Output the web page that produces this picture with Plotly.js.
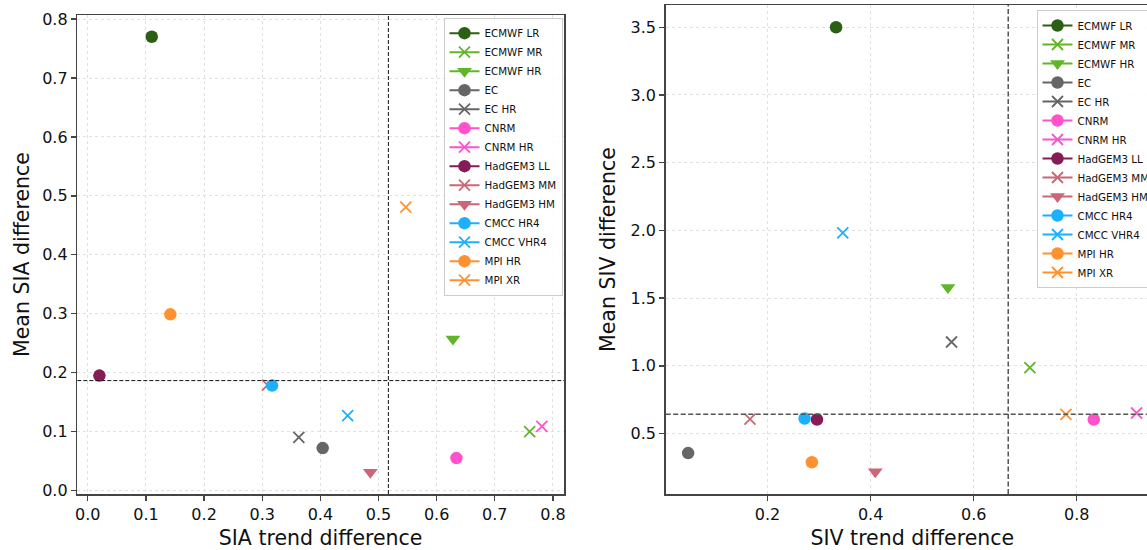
<!DOCTYPE html>
<html><head><meta charset="utf-8">
<script src="https://cdn.plot.ly/plotly-3.0.1.min.js"></script>
<style>html,body{margin:0;padding:0;overflow:hidden;background:#fff;width:1147px;height:550px}#chart{width:1170px;height:550px}</style>
</head><body><div id="chart"></div>
<script>
const models = ['ECMWF LR','ECMWF MR','ECMWF HR','EC','EC HR','CNRM','CNRM HR','HadGEM3 LL','HadGEM3 MM','HadGEM3 HM','CMCC HR4','CMCC VHR4','MPI HR','MPI XR'];
const siaTrendDiff = [0.110, 0.760, 0.628, 0.404, 0.363, 0.634, 0.781, 0.020, 0.309, 0.486, 0.317, 0.447, 0.142, 0.547];
const siaMeanDiff  = [0.770, 0.100, 0.257, 0.072, 0.090, 0.055, 0.109, 0.195, 0.179, 0.031, 0.178, 0.127, 0.299, 0.481];
const sivTrendDiff = [0.333, 0.709, 0.550, 0.046, 0.557, 0.833, 0.916, 0.296, 0.166, 0.409, 0.272, 0.346, 0.286, 0.779];
const sivMeanDiff  = [3.500, 0.987, 1.578, 0.356, 1.176, 0.604, 0.652, 0.604, 0.606, 0.218, 0.611, 1.982, 0.288, 0.641];
const siaRefLines = [0.517, 0.1865];   // [trend, mean]
const sivRefLines = [0.667, 0.643];    // [trend, mean]
const colors  = ['#2a5f14','#62b52a','#62b52a','#666666','#666666','#ff52cc','#ff52cc','#861c55','#cc6677','#cc6677','#1cb0ff','#1cb0ff','#ff9230','#ff9230'];
const symbols = ['circle','x-thin','triangle-down','circle','x-thin','circle','x-thin','circle','x-thin','triangle-down','circle','x-thin','circle','x-thin'];

const W = 1170, H = 550;
function pad(arr){const lo=Math.min(...arr),hi=Math.max(...arr),m=0.05*(hi-lo);return [lo-m,hi+m];}
function mk(i){
  const s = symbols[i], c = colors[i];
  if (s==='x-thin') return {symbol:s,size:11,color:c,line:{color:c,width:1.8}};
  if (s==='triangle-down') return {symbol:s,size:13,color:c,line:{width:0}};
  return {symbol:s,size:12.5,color:c,line:{width:0}};
}
const traces = [];
models.forEach((m,i)=>{
  traces.push({type:'scatter',mode:'lines+markers',name:m,x:[siaTrendDiff[i]],y:[siaMeanDiff[i]],xaxis:'x',yaxis:'y',legend:'legend',
    line:{color:colors[i],width:2},marker:mk(i),hoverinfo:'name+x+y'});
});
models.forEach((m,i)=>{
  traces.push({type:'scatter',mode:'lines+markers',name:m,x:[sivTrendDiff[i]],y:[sivMeanDiff[i]],xaxis:'x2',yaxis:'y2',legend:'legend2',
    line:{color:colors[i],width:2},marker:mk(i),hoverinfo:'name+x+y'});
});
const axBase = {showline:true,mirror:true,linecolor:'#444',linewidth:1.5,ticks:'outside',ticklen:5,tickwidth:1.3,tickcolor:'#444',
  showgrid:true,gridcolor:'#e0e0e0',gridwidth:1,griddash:'dot',zeroline:false,tickfont:{size:16,color:'#111'},tickformat:'.1f',automargin:false};
const legBase = {xanchor:'left',yanchor:'top',bgcolor:'rgba(255,255,255,0.85)',bordercolor:'#cccccc',borderwidth:1,font:{size:10.3,color:'#111'},itemwidth:30,tracegroupgap:0};
const layout = {
  width:W,height:H,margin:{l:0,r:0,t:0,b:0},paper_bgcolor:'#fff',plot_bgcolor:'#fff',
  font:{family:'DejaVu Sans',color:'#111'},
  xaxis:Object.assign({},axBase,{domain:[77.3/W,564/W],range:pad(siaTrendDiff),dtick:0.1,tick0:0,anchor:'y',
    title:{text:'SIA trend difference',font:{size:20.5,color:'#111'},standoff:8}}),
  yaxis:Object.assign({},axBase,{domain:[(H-494)/H,(H-15)/H],range:pad(siaMeanDiff),dtick:0.1,tick0:0,anchor:'x',
    title:{text:'Mean SIA difference',font:{size:20.5,color:'#111'},standoff:7}}),
  xaxis2:Object.assign({},axBase,{domain:[665.7/W,1159/W],range:pad(sivTrendDiff),dtick:0.2,tick0:0,anchor:'y2',
    title:{text:'SIV trend difference',font:{size:20.5,color:'#111'},standoff:8}}),
  yaxis2:Object.assign({},axBase,{domain:[(H-494)/H,(H-5)/H],range:pad(sivMeanDiff),dtick:0.5,tick0:0,anchor:'x2',
    title:{text:'Mean SIV difference',font:{size:20.5,color:'#111'},standoff:9}}),
  legend:Object.assign({},legBase,{x:443.5/W,y:1-17.7/H}),
  legend2:Object.assign({},legBase,{x:1036.5/W,y:1-10/H}),
  shapes:[
    {type:'line',xref:'x',yref:'paper',x0:siaRefLines[0],x1:siaRefLines[0],y0:(H-494)/H,y1:(H-15)/H,line:{color:'#111',width:1,dash:'4px,2px'},layer:'above'},
    {type:'line',xref:'paper',yref:'y',x0:77.3/W,x1:564/W,y0:siaRefLines[1],y1:siaRefLines[1],line:{color:'#111',width:1,dash:'4px,2px'},layer:'above'},
    {type:'line',xref:'x2',yref:'paper',x0:sivRefLines[0],x1:sivRefLines[0],y0:(H-494)/H,y1:(H-5)/H,line:{color:'#555',width:1.5,dash:'5px,2.5px'},layer:'above'},
    {type:'line',xref:'paper',yref:'y2',x0:665.7/W,x1:1159/W,y0:sivRefLines[1],y1:sivRefLines[1],line:{color:'#555',width:1.5,dash:'5px,2.5px'},layer:'above'}
  ]
};
Plotly.newPlot('chart',traces,layout,{displayModeBar:false,staticPlot:true});
</script></body></html>
